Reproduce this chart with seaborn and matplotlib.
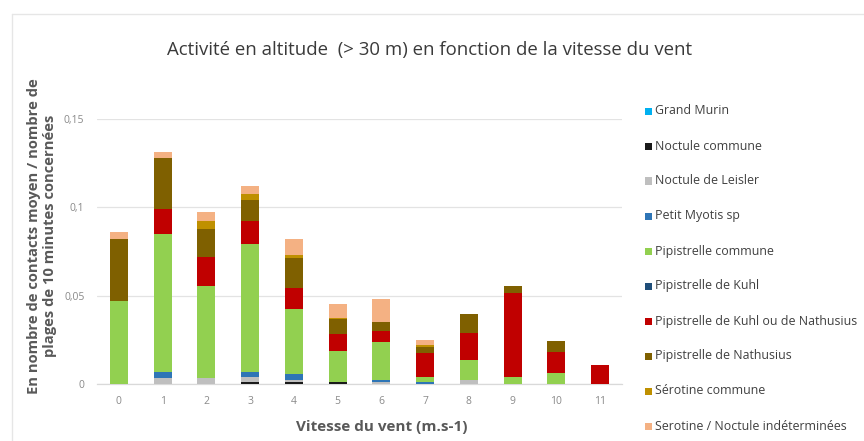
import matplotlib
matplotlib.use("Agg")
import matplotlib.pyplot as plt
from matplotlib.lines import Line2D
from matplotlib.patches import Rectangle
import numpy as np
import pandas as pd
import seaborn as sns

# Wind speed classes (m/s)
wind = ["0", "1", "2", "3", "4", "5", "6", "7", "8", "9", "10", "11"]

species = [
    "Grand Murin",
    "Noctule commune",
    "Noctule de Leisler",
    "Petit Myotis sp",
    "Pipistrelle commune",
    "Pipistrelle de Kuhl",
    "Pipistrelle de Kuhl ou de Nathusius",
    "Pipistrelle de Nathusius",
    "Sérotine commune",
    "Serotine / Noctule indéterminées",
]

grand_murin       = [0, 0, 0, 0, 0, 0, 0, 0, 0, 0, 0, 0]
noctule_commune   = [0, 0, 0, 0.0010, 0.0013, 0.0013, 0, 0, 0, 0, 0, 0]
noctule_leisler   = [0, 0.0036, 0.0036, 0.0028, 0.0010, 0, 0.0013, 0, 0.0023, 0, 0, 0]
petit_myotis      = [0, 0.0034, 0, 0.0032, 0.0032, 0, 0.0010, 0.0013, 0, 0, 0, 0]
pip_commune       = [0.0472, 0.0781, 0.0521, 0.0723, 0.0368, 0.0176, 0.0217, 0.0029, 0.0111, 0.0038, 0.0060, 0]
pip_kuhl          = [0, 0, 0, 0, 0, 0, 0, 0, 0, 0, 0, 0]
pip_kuhl_nath     = [0, 0.0140, 0.0160, 0.0128, 0.0122, 0.0094, 0.0060, 0.0135, 0.0157, 0.0475, 0.0121, 0.0108]
pip_nathusius     = [0.0347, 0.0287, 0.0161, 0.0121, 0.0168, 0.0083, 0.0049, 0.0030, 0.0105, 0.0044, 0.0061, 0]
serotine_commune  = [0, 0, 0.0047, 0.0034, 0.0016, 0.0010, 0, 0.0015, 0, 0, 0, 0]
serotine_noctule  = [0.0042, 0.0036, 0.0049, 0.0047, 0.0090, 0.0077, 0.0132, 0.0026, 0, 0, 0, 0]

series = [grand_murin, noctule_commune, noctule_leisler, petit_myotis, pip_commune,
          pip_kuhl, pip_kuhl_nath, pip_nathusius, serotine_commune, serotine_noctule]

colors = ["#00B0F0", "#1A1A1A", "#BFBFBF", "#2E75B6", "#92D050",
          "#1F4E79", "#C00000", "#7F6000", "#BF9000", "#F4B183"]

yticks = [0, 0.05, 0.1, 0.15]
ytick_labels = ["0", "0,05", "0,1", "0,15"]

sns.set_theme(style="white")
plt.rcParams["font.family"] = ["Open Sans", "DejaVu Sans"]

W, H = 864, 441
fig = plt.figure(figsize=(W / 100, H / 100), dpi=100)
ax = fig.add_axes([97 / W, (H - 384) / H, (622 - 97) / W, (384 - 119) / H])

# Stacked bars: draw cumulative totals from the top series down
values = np.array(series)
cum = np.cumsum(values, axis=0)
for i in range(len(series) - 1, -1, -1):
    df = pd.DataFrame({"vent": wind, "val": cum[i]})
    sns.barplot(data=df, x="vent", y="val", order=wind, color=colors[i],
                saturation=1, width=0.41, ax=ax, errorbar=None, zorder=3,
                linewidth=0, edgecolor="none")

ax.set_xlim(-0.5, 11.5)
ax.set_ylim(0, 0.15)
ax.set_yticks(yticks)
ax.set_yticklabels(ytick_labels)
ax.yaxis.grid(True, color="#E3E3E3", linewidth=0.9, zorder=0)
ax.set_axisbelow(True)
for s in ["top", "right", "left"]:
    ax.spines[s].set_visible(False)
ax.spines["bottom"].set_color("#D9D9D9")
ax.spines["bottom"].set_linewidth(0.9)
ax.tick_params(axis="both", length=0, labelsize=7.5, labelcolor="#8A8A8A")
ax.tick_params(axis="y", pad=9)
ax.tick_params(axis="x", pad=9)
ax.set_xlabel("")
ax.set_ylabel("")

fig.text(382 / W, 1 - 427 / H, "Vitesse du vent (m.s-1)", ha="center", va="center",
         fontsize=11, fontweight="bold", color="#595959")

fig.text(430 / W, 1 - 50 / H,
         "Activité en altitude  (> 30 m) en fonction de la vitesse du vent",
         ha="center", va="center", fontsize=13.4, color="#3A3A3A")

fig.text(42 / W, 1 - 236 / H,
         "En nombre de contacts moyen / nombre de\nplages de 10 minutes concernées",
         ha="center", va="center", rotation=90, fontsize=10.6, fontweight="bold",
         color="#595959", linespacing=1.1)

# Legend column on the right
for k, (name, col) in enumerate(zip(species, colors)):
    yc = 111 + 35 * k
    fig.add_artist(Rectangle(((645) / W, 1 - (yc + 3.5) / H), 7 / W, 7 / H,
                             transform=fig.transFigure, color=col, lw=0))
    fig.text(655 / W, 1 - yc / H, name, ha="left", va="center",
             fontsize=8.9, color="#404040")

# Chart frame
fig.add_artist(Line2D([12 / W, 1], [1 - 14 / H, 1 - 14 / H], color="#E6E6E6",
                      lw=1, transform=fig.transFigure))
fig.add_artist(Line2D([12 / W, 12 / W], [0, 1 - 14 / H], color="#E6E6E6",
                      lw=1, transform=fig.transFigure))

fig.savefig("out.png", dpi=100)
